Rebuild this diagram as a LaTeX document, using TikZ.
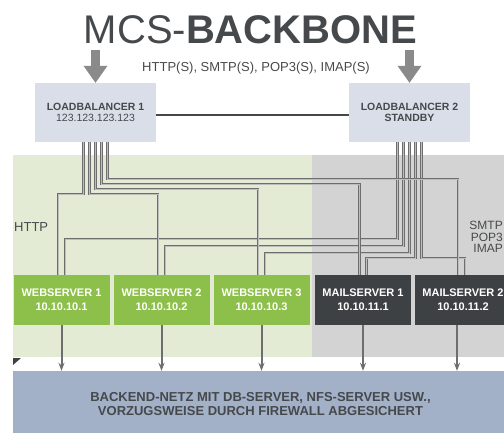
\documentclass[tikz,border=0pt]{standalone}
\usepackage{fontspec}
\setmainfont{Liberation Sans}
\usetikzlibrary{arrows.meta}

\definecolor{titlegray}{HTML}{46494B}
\definecolor{lbblue}{HTML}{D9DEE8}
\definecolor{httpgreen}{HTML}{E4EBD4}
\definecolor{mailgray}{HTML}{D3D3D3}
\definecolor{webgreen}{HTML}{8DC04B}
\definecolor{maildark}{HTML}{3E4143}
\definecolor{backblue}{HTML}{A2B0C8}
\definecolor{feedgray}{HTML}{8A8A8A}
\definecolor{wiregray}{HTML}{6E6E6E}
\definecolor{wireinner}{HTML}{BDBDBD}

\begin{document}
\begin{tikzpicture}[x=1pt, y=-1pt,
  lbbox/.style={fill=lbblue, minimum width=121pt, minimum height=59pt, inner sep=0pt,
    align=center, text=titlegray, font=\bfseries\fontsize{10.5}{11}\selectfont},
  server/.style={minimum width=96pt, minimum height=50pt, inner sep=0pt,
    align=center, text=white, font=\bfseries\fontsize{11}{14}\selectfont},
  web/.style={server, fill=webgreen},
  mail/.style={server, fill=maildark},
  wire/.style={draw=wiregray, line width=0.8pt, double=wireinner, double distance=0.9pt},
  feed/.style={draw=feedgray, line width=9pt,
    -{Triangle[length=17pt, width=24pt, line width=0pt]}},
  toback/.style={draw=wiregray, line width=2pt, -{Stealth[length=8pt, width=6pt]}}]

  \useasboundingbox (0,0) rectangle (504,432);
  \clip (0,0) rectangle (504,432);

  % Zones
  \fill[httpgreen] (13,155) rectangle (312,357);
  \fill[mailgray] (312,155) rectangle (510,357);
  \fill[maildark] (13,358) -- (21,358) -- (13,365) -- cycle;
  \node[fill=backblue, minimum width=495pt, minimum height=66pt, inner sep=0pt,
    align=center, text=titlegray, font=\bfseries\fontsize{13}{14}\selectfont]
    (backend) at (260.5,404) {BACKEND-NETZ MIT DB-SERVER, NFS-SERVER USW.,\\
    VORZUGSWEISE DURCH FIREWALL ABGESICHERT};

  % Title
  \node[anchor=base, text=titlegray, font=\fontsize{40}{40}\selectfont]
    (title) at (250.5,43) {MCS-\textbf{BACKBONE}};
  \node[anchor=base, text=titlegray, font=\fontsize{13}{13}\selectfont]
    (proto) at (256,71) {HTTP(S), SMTP(S), POP3(S), IMAP(S)};

  % Load balancers
  \node[lbbox] (lbA) at (95.5,112.5) {LOADBALANCER 1\\\mdseries 123.123.123.123};
  \node[lbbox] (lbB) at (409.5,112.5) {LOADBALANCER 2\\STANDBY};
  \coordinate (inA) at (95.5,50);
  \coordinate (inB) at (409.5,50);
  \draw[feed] (inA) -- (lbA.north);
  \draw[feed] (inB) -- (lbB.north);
  \draw[draw=titlegray, line width=1.8pt] ([yshift=-2.5pt]lbA.east) -- ([yshift=-2.5pt]lbB.west);

  % Zone labels
  \node[anchor=base west, inner sep=0pt, text=titlegray, font=\fontsize{13}{13}\selectfont]
    (httplbl) at (14,231) {HTTP};
  \node[anchor=east, inner sep=0pt, align=right, text=titlegray, font=\fontsize{12}{11.5}\selectfont]
    (maillbl) at (503,237) {SMTP\\POP3\\IMAP};

  % Servers
  \node[web] (webA) at (61.5,300) {WEBSERVER 1\\10.10.10.1};
  \node[web] (webB) at (161.5,300) {WEBSERVER 2\\10.10.10.2};
  \node[web] (webC) at (261.5,300) {WEBSERVER 3\\10.10.10.3};
  \node[mail] (mailA) at (363,300) {MAILSERVER 1\\10.10.11.1};
  \node[mail] (mailB) at (463,300) {MAILSERVER 2\\10.10.11.2};

  % Wires from loadbalancer 2
  \draw[wire] ([xshift=-12pt]lbB.south) -- ++(0,97) -| ([xshift=3.5pt]webA.north);
  \draw[wire] ([xshift=-6pt]lbB.south) -- ++(0,104) -| ([xshift=3.5pt]webB.north);
  \draw[wire] (lbB.south) -- ++(0,111) -| ([xshift=3.5pt]webC.north);
  \draw[wire] ([xshift=6pt]lbB.south) -- ++(0,116) -| ([xshift=3.5pt]mailA.north);
  \draw[wire] ([xshift=12pt]lbB.south) -- ++(0,116) -| ([xshift=2pt]mailB.north);

  % Wires from loadbalancer 1
  \draw[wire] ([xshift=-12pt]lbA.south) -- ++(0,52) -| ([xshift=-3.5pt]webA.north);
  \draw[wire] ([xshift=-6pt]lbA.south) -- ++(0,52) -| ([xshift=-3.5pt]webB.north);
  \draw[wire] (lbA.south) -- ++(0,47) -| ([xshift=-3.5pt]webC.north);
  \draw[wire] ([xshift=6pt]lbA.south) -- ++(0,42) -| ([xshift=-3.5pt]mailA.north);
  \draw[wire] ([xshift=12pt]lbA.south) -- ++(0,37) -| ([xshift=-5pt]mailB.north);

  % To backend
  \foreach \srv in {webA,webB,webC,mailA}
    \draw[toback] (\srv.south) -- (\srv.south |- backend.north);
  \draw[toback] ([xshift=-6pt]mailB.south) -- ([xshift=-6pt]mailB.south |- backend.north);
\end{tikzpicture}
\end{document}
